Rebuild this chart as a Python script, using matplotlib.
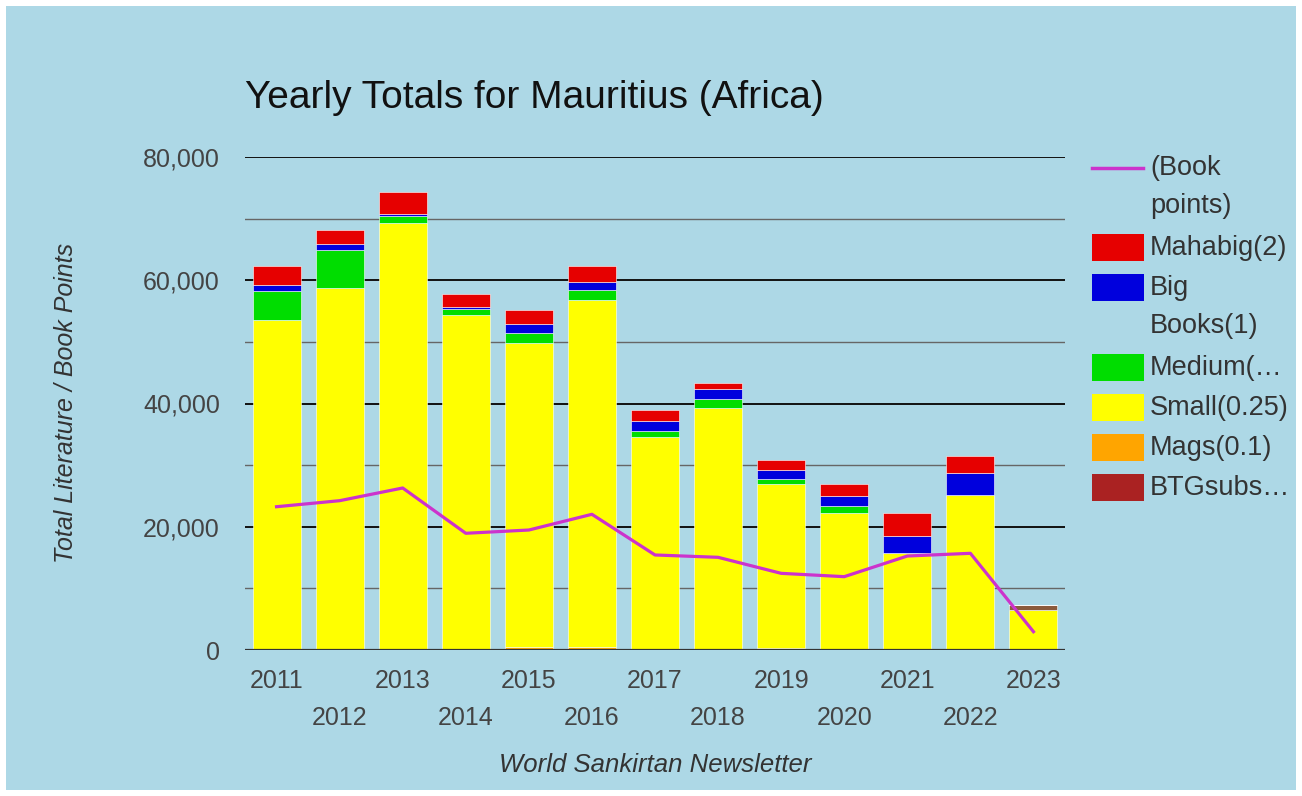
import matplotlib.pyplot as plt
from matplotlib.patches import Rectangle
from matplotlib.lines import Line2D

years = ['2011', '2012', '2013', '2014', '2015', '2016', '2017',
         '2018', '2019', '2020', '2021', '2022', '2023']
mags = [0, 0, 0, 0, 500, 500, 0, 0, 400, 0, 0, 0, 0]
small = [53500, 58700, 69300, 54400, 49300, 56300, 34600, 39200, 26500, 22300, 15800, 25100, 6500]
btgsubs = [0, 0, 0, 0, 0, 0, 0, 0, 0, 0, 0, 0, 800]
medium = [4700, 6200, 1100, 900, 1600, 1600, 1000, 1500, 800, 1000, 0, 0, 0]
big = [1000, 1000, 400, 300, 1500, 1300, 1500, 1700, 1500, 1700, 2700, 3600, 0]
mahabig = [3100, 2300, 3500, 2100, 2300, 2600, 1800, 1000, 1600, 2000, 3800, 2700, 0]
book_points = [23250, 24230, 26290, 18940, 19470, 22020, 15420, 15040, 12440, 11900, 15250, 15690, 2970]

plt.rcParams['font.family'] = ['Liberation Sans', 'DejaVu Sans']

W, H = 1302, 796
bg = '#add8e6'
fig = plt.figure(figsize=(W / 100, H / 100), dpi=100, facecolor='white')
# light blue panel inside a thin white frame
fig.patches.append(Rectangle((6 / W, 6 / H), 1 - 12 / W, 1 - 12 / H,
                             transform=fig.transFigure, facecolor=bg,
                             edgecolor='none', zorder=-10))

def fx(x):
    return x / W

def fy(y):
    return 1 - y / H

ax = fig.add_axes([fx(245), fy(650), fx(1065) - fx(245), fy(157) - fy(650)])
ax.set_facecolor(bg)

series = [
    (mags, '#ffa500'),
    (small, '#ffff00'),
    (btgsubs, '#8b5a3c'),
    (medium, '#00dd00'),
    (big, '#0000dd'),
    (mahabig, '#e60000'),
]
x = list(range(len(years)))
bottom = [0] * len(years)
for vals, col in series:
    ax.bar(x, vals, width=0.76, bottom=bottom, color=col,
           edgecolor='white', linewidth=0.4, zorder=2)
    bottom = [b + v for b, v in zip(bottom, vals)]

ax.plot(x, book_points, color='#cc33cc', linewidth=2.3, zorder=3)

ax.set_xlim(-0.5, len(years) - 0.5)
ax.set_ylim(0, 80000)
for v in range(10000, 80001, 20000):
    ax.axhline(v, color='#666666', linewidth=1.0, zorder=1)
for v in range(20000, 80001, 20000):
    ax.axhline(v, color='#111111', linewidth=1.4, zorder=1)
ax.axhline(0, color='#333333', linewidth=1.6, zorder=4)

ax.set_yticks([0, 20000, 40000, 60000, 80000])
ax.set_yticklabels(['0', '20,000', '40,000', '60,000', '80,000'])
ax.set_xticks(x)
ax.set_xticklabels([y if i % 2 == 0 else '\n' + y for i, y in enumerate(years)])
for t in ax.get_xticklabels():
    t.set_linespacing(1.65)
ax.tick_params(axis='both', length=0, labelsize=18, labelcolor='#444444')
ax.tick_params(axis='x', pad=14)
ax.tick_params(axis='y', pad=18)
for s in ax.spines.values():
    s.set_visible(False)

fig.text(fx(245), fy(98), 'Yearly Totals for Mauritius (Africa)', fontsize=28,
         color='#111111', ha='left', va='center')
fig.text(fx(66), fy(403), 'Total Literature / Book Points', fontsize=18,
         style='italic', color='#333333', rotation=90, ha='center', va='center')
fig.text(fx(655), fy(765), 'World Sankirtan Newsletter', fontsize=18.5,
         style='italic', color='#333333', ha='center', va='center')

# legend, drawn by hand
legend_items = [
    ('line', '#cc33cc', ['(Book', 'points)']),
    ('box', '#e60000', ['Mahabig(2)']),
    ('box', '#0000dd', ['Big', 'Books(1)']),
    ('box', '#00dd00', ['Medium(…']),
    ('box', '#ffff00', ['Small(0.25)']),
    ('box', '#ffa500', ['Mags(0.1)']),
    ('box', '#aa2222', ['BTGsubs…']),
]
ly = 168
for kind, col, lines in legend_items:
    if kind == 'line':
        fig.lines.append(Line2D([fx(1092), fx(1143)], [fy(ly), fy(ly)],
                                transform=fig.transFigure, color=col, linewidth=2.5))
    else:
        fig.patches.append(Rectangle((fx(1092), fy(ly + 13)), fx(52), 27 / H,
                                     transform=fig.transFigure, facecolor=col,
                                     edgecolor='none'))
    for k, line in enumerate(lines):
        fig.text(fx(1150), fy(ly + k * 38), line, fontsize=19.5, color='#333333',
                 ha='left', va='center')
    ly += 40 * len(lines)

fig.savefig('out.png', dpi=100, facecolor='white')
